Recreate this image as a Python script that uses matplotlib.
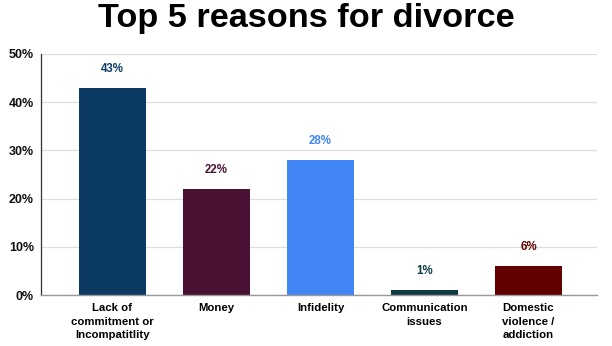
import matplotlib
matplotlib.use("Agg")
import matplotlib.pyplot as plt
from matplotlib.ticker import FuncFormatter

plt.rcParams['font.family'] = ['Liberation Sans', 'DejaVu Sans']

categories = ["Lack of\ncommitment or\nIncompatitlity", "Money", "Infidelity",
              "Communication\nissues", "Domestic\nviolence /\naddiction"]
values = [43, 22, 28, 1, 6]
colors = ["#0b3a63", "#4a1232", "#4285f4", "#0e3b43", "#620000"]
yticks = [0, 10, 20, 30, 40, 50]

fig = plt.figure(figsize=(6.12, 3.46), dpi=100)
ax = fig.add_axes([41/612, 1-295/346, (597-41)/612, (295-54)/346])

x = list(range(len(categories)))
ax.bar(x, values, width=0.645, color=colors, zorder=3)

for xi, v, c in zip(x, values, colors):
    ax.annotate(f"{v}%", (xi, v), xytext=(0, 13.5), textcoords="offset points",
                ha="center", va="center", fontsize=8.3, fontweight="bold", color=c)

ax.set_xlim(-0.6875, 4.659)
ax.set_ylim(0, 50)
ax.set_yticks(yticks)
ax.yaxis.set_major_formatter(FuncFormatter(lambda v, p: f"{int(v)}%"))
ax.set_xticks(x)
ax.set_xticklabels(categories, fontsize=8.2, fontweight="bold", linespacing=1.42)
for lab in ax.get_yticklabels():
    lab.set_fontweight("bold")
    lab.set_fontsize(9)
    lab.set_color("#111111")

ax.tick_params(axis="both", length=0)
ax.tick_params(axis="y", pad=5)
ax.tick_params(axis="x", pad=6)
ax.grid(axis="y", color="#dddddd", linewidth=0.9, zorder=0)
for s in ["top", "right"]:
    ax.spines[s].set_visible(False)
ax.spines["left"].set_color("#333333")
ax.spines["left"].set_linewidth(0.9)
ax.spines["bottom"].set_color("#999999")
ax.spines["bottom"].set_linewidth(1.0)
ax.spines["bottom"].set_zorder(4)

fig.text(306/612, 1-27/346, "Top 5 reasons for divorce", ha="center", va="baseline",
         fontsize=24.7, fontweight="bold", color="black")

fig.savefig("out.png", dpi=100)
